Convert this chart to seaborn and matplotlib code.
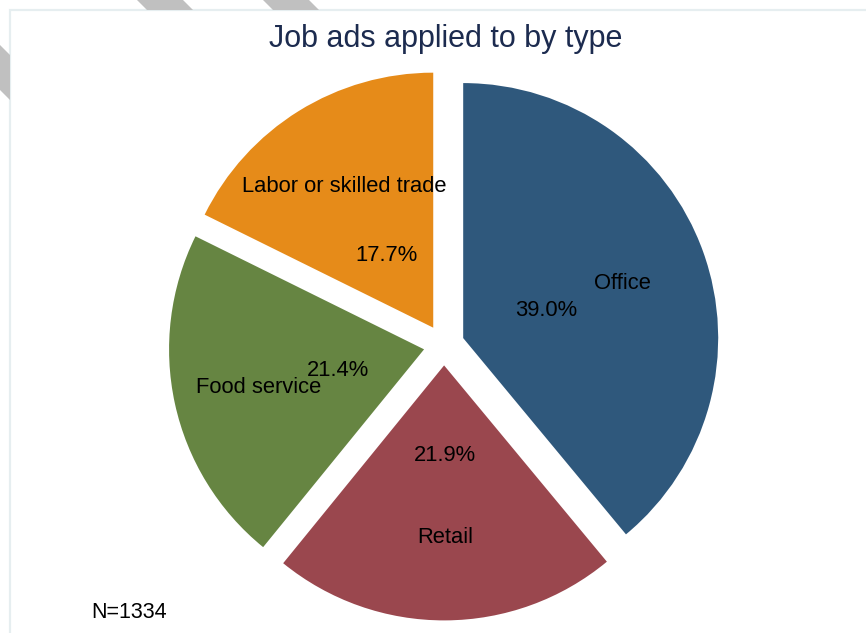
import matplotlib
matplotlib.use("Agg")
import matplotlib.pyplot as plt
from matplotlib.patches import Rectangle, Polygon
import seaborn as sns

# Job ad types, clockwise from 12 o'clock, with application counts
categories = ["Office", "Retail", "Food service", "Labor or skilled trade"]
counts = [520, 292, 286, 236]
slice_colors = ["#2f587c", "#9a474e", "#668542", "#e68b19"]
title = "Job ads applied to by type"

sns.set_theme(style="white")
plt.rcParams["font.family"] = ["Liberation Sans", "DejaVu Sans"]

W, H = 866, 633
fig = plt.figure(figsize=(W / 100, H / 100), dpi=100)
fig.patch.set_facecolor("white")


def fx(px):
    return px / W


def fy(py):
    return 1 - py / H


# light page frame and diagonal hatch marks around it
fig.add_artist(Rectangle((fx(10), -0.1), 1.2, fy(10) + 0.1, transform=fig.transFigure,
                         fill=False, edgecolor="#e6eef0", lw=1.6, zorder=0))
for pts in ([(137, 0), (183, 0), (193, 10), (147, 10)],
            [(263, 0), (309, 0), (319, 10), (273, 10)],
            [(0, 45), (0, 90), (10, 100), (10, 55)]):
    fig.add_artist(Polygon([(fx(x), fy(y)) for x, y in pts], closed=True,
                           transform=fig.transFigure, facecolor="#c0c0c0",
                           edgecolor="none", zorder=0))

# pie axes: centre at (444, 345) px, radius 255 px
r_px = 255
side = 2.2 * r_px
ax = fig.add_axes([fx(444 - side / 2), fy(345 + side / 2), side / W, side / H])
palette = sns.color_palette(slice_colors)

wedges, texts, autotexts = ax.pie(
    counts,
    labels=categories,
    colors=palette,
    startangle=90,
    counterclock=False,
    explode=[0.08] * len(counts),
    radius=1.0,
    labeldistance=0.665,
    autopct="%1.1f%%",
    pctdistance=0.345,
    wedgeprops=dict(linewidth=0),
    textprops=dict(fontsize=15.8, color="black"),
)
for t in list(texts) + list(autotexts):
    t.set_horizontalalignment("center")
    t.set_verticalalignment("center_baseline")
ax.set_xlim(-1.1, 1.1)
ax.set_ylim(-1.1, 1.1)
ax.set_aspect("equal")
ax.axis("off")

fig.text(fx(445.5), fy(47), title, ha="center", va="baseline",
         fontsize=22, color="#1c2b4f")
fig.text(fx(91), fy(618), f"N={sum(counts)}", ha="left", va="baseline",
         fontsize=15.5, color="black")

fig.savefig("out.png", dpi=100, facecolor="white")
